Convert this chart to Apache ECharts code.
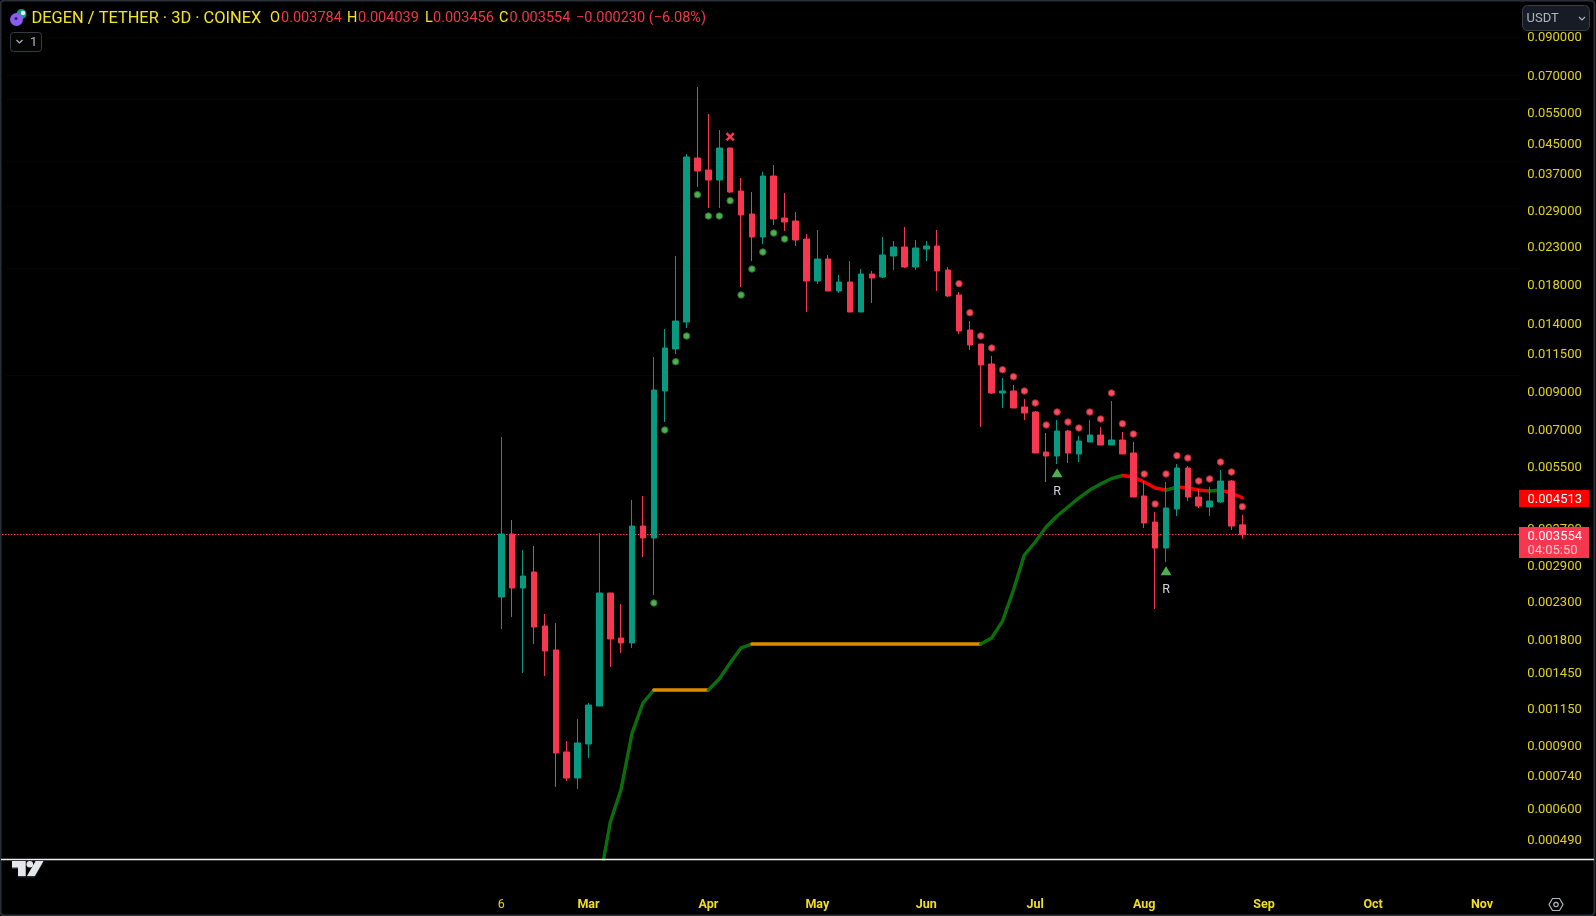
<!DOCTYPE html>
<html>
<head>
<meta charset="utf-8">
<title>DEGEN / TETHER</title>
<style>
  html, body { margin: 0; background: #000; }
  #chart { width: 1596px; height: 916px; }
</style>
<script src="https://cdn.jsdelivr.net/npm/echarts@6/dist/echarts.min.js"></script>
</head>
<body>
<div id="chart"></div>
<script>
// 3D candles
const openValues = [0.002368, 0.003565, 0.002511, 0.002786, 0.001962, 0.001679, 0.000866, 0.000731, 0.000912, 0.001167, 0.002431, 0.001815, 0.001757, 0.003755, 0.003474, 0.009023, 0.011852, 0.014124, 0.040968, 0.037897, 0.035514, 0.043716, 0.033066, 0.028478, 0.024527, 0.036448, 0.027748, 0.027213, 0.024211, 0.018432, 0.021262, 0.017273, 0.018313, 0.015071, 0.019289, 0.018917, 0.021681, 0.022985, 0.020186, 0.022689, 0.023135, 0.019797, 0.016830, 0.013409, 0.012243, 0.010752, 0.008907, 0.009023, 0.008133, 0.007873, 0.006072, 0.005916, 0.006959, 0.005994, 0.006479, 0.006781, 0.006354, 0.006564, 0.006033, 0.004563, 0.003854, 0.003255, 0.004194, 0.005473, 0.004533, 0.004248, 0.004389, 0.005030, 0.003784]
const closeValues = [0.003565, 0.002511, 0.002714, 0.001949, 0.001668, 0.000860, 0.000731, 0.000918, 0.001174, 0.002431, 0.001803, 0.001757, 0.003755, 0.003474, 0.009082, 0.011930, 0.014216, 0.041234, 0.037651, 0.035514, 0.043716, 0.032852, 0.028294, 0.024527, 0.036448, 0.027569, 0.027037, 0.024054, 0.018432, 0.021262, 0.017273, 0.018313, 0.015071, 0.019289, 0.018794, 0.021822, 0.022985, 0.020186, 0.022837, 0.023135, 0.019668, 0.016721, 0.013322, 0.012164, 0.010683, 0.008907, 0.009023, 0.008080, 0.007822, 0.006033, 0.005916, 0.006959, 0.006033, 0.006522, 0.006781, 0.006354, 0.006564, 0.005994, 0.004533, 0.003829, 0.003255, 0.004221, 0.005473, 0.004533, 0.004276, 0.004417, 0.005030, 0.003755, 0.003554]
const lowValues = [0.001924, 0.002080, 0.001446, 0.001745, 0.001418, 0.000690, 0.000717, 0.000681, 0.000832, 0.001167, 0.001503, 0.001646, 0.001701, 0.003071, 0.002399, 0.007378, 0.011474, 0.013584, 0.033936, 0.029610, 0.029610, 0.032639, 0.017728, 0.020988, 0.023438, 0.026515, 0.025502, 0.023135, 0.015071, 0.018076, 0.017273, 0.017050, 0.015071, 0.015071, 0.015978, 0.018794, 0.019797, 0.020055, 0.019797, 0.020988, 0.017273, 0.016613, 0.013065, 0.011776, 0.007142, 0.008849, 0.008080, 0.008080, 0.007474, 0.006033, 0.004997, 0.005617, 0.005653, 0.005690, 0.006479, 0.006354, 0.006354, 0.005994, 0.004533, 0.003707, 0.002191, 0.002973, 0.004007, 0.004417, 0.004221, 0.004007, 0.004360, 0.003659, 0.003456]
const highValues = [0.006693, 0.003905, 0.003213, 0.003298, 0.002121, 0.002000, 0.000930, 0.001072, 0.001190, 0.003588, 0.002431, 0.002263, 0.004446, 0.004563, 0.011252, 0.013496, 0.021681, 0.042046, 0.064963, 0.054516, 0.049136, 0.043716, 0.035978, 0.032852, 0.037408, 0.039147, 0.032639, 0.028851, 0.025010, 0.025668, 0.021822, 0.019164, 0.020988, 0.019926, 0.019668, 0.024527, 0.023899, 0.026173, 0.024054, 0.023899, 0.025668, 0.020186, 0.017161, 0.014216, 0.012243, 0.011326, 0.009818, 0.009382, 0.008566, 0.007924, 0.006869, 0.007474, 0.007004, 0.006737, 0.007474, 0.007142, 0.008456, 0.006914, 0.006479, 0.005030, 0.004113, 0.004997, 0.005617, 0.005544, 0.004775, 0.004838, 0.005402, 0.005063, 0.004039]

// trend line, from bar 9 on
const trendStart = 9
const trendValues = [0.000370, 0.000549, 0.000681, 0.000979, 0.001190, 0.001295, 0.001295, 0.001295, 0.001295, 0.001295, 0.001295, 0.001391, 0.001543, 0.001701, 0.001745, 0.001745, 0.001745, 0.001745, 0.001745, 0.001745, 0.001745, 0.001745, 0.001745, 0.001745, 0.001745, 0.001745, 0.001745, 0.001745, 0.001745, 0.001745, 0.001745, 0.001745, 0.001745, 0.001745, 0.001745, 0.001745, 0.001815, 0.002026, 0.002478, 0.003111, 0.003385, 0.003731, 0.004007, 0.004248, 0.004504, 0.004744, 0.004933, 0.005112, 0.005213, 0.005162, 0.004997, 0.004806, 0.004744, 0.004838, 0.004806, 0.004744, 0.004714, 0.004744, 0.004653, 0.004513]
const trendRuns = [[9, 14, 'green'], [14, 19, 'orange'], [19, 23, 'green'], [23, 44, 'orange'], [44, 57, 'green'], [57, 61, 'red'], [61, 62, 'green'], [62, 65, 'red'], [65, 66, 'green'], [66, 68, 'red']]
const trendColors = { green: '#0b6e0b', orange: '#e08a00', red: '#f50000' }

// dots under and over the candles
const greenDotStart = 14
const greenDots = [0.002278, 0.007004, 0.010914, 0.012896, 0.032281, 0.028111, 0.028111, 0.031047, 0.016830, 0.019926, 0.022251, 0.025173, 0.024211]
const redDotStart = 42
const redDots = [0.018112, 0.015003, 0.012896, 0.011930, 0.010362, 0.009901, 0.009023, 0.008347, 0.007236, 0.007873, 0.007378, 0.007096, 0.007873, 0.007523, 0.008907, 0.007297, 0.006825, 0.005264, 0.004332, 0.005264, 0.005928, 0.005840, 0.005030, 0.005096, 0.005690, 0.005332, 0.004257]
const crossMark = [21, 0.047044]
const reversalMarks = [[51, 0.005308], [61, 0.002809]]

// axes
const priceTicks = [0.09, 0.07, 0.055, 0.045, 0.037, 0.029, 0.023, 0.018, 0.014, 0.0115, 0.009, 0.007, 0.0055, 0.0037, 0.0029, 0.0023, 0.0018, 0.00145, 0.00115, 0.0009, 0.00074, 0.0006, 0.00049]
const timeTickBars = [0, 8, 19, 29, 39, 49, 59, 70, 80, 90]
const timeTickLabels = ['6', 'Mar', 'Apr', 'May', 'Jun', 'Jul', 'Aug', 'Sep', 'Oct', 'Nov']
const lastClose = 0.003554

const headerParts = [
  ['DEGEN / TETHER · 3D · COINEX', 31.5, 'title'],
  ['O', 270, 'key'], ['0.003784', 281, 'val'],
  ['H', 347, 'key'], ['0.004039', 358, 'val'],
  ['L', 425, 'key'], ['0.003456', 433, 'val'],
  ['C', 499, 'key'], ['0.003554', 509.5, 'val'],
  ['−0.000230 (−6.08%)', 576, 'val']
]

// 45 empty slots left of the first candle, the rest is the empty right side
const leadSlots = 45
const slotCount = 139
const slotNames = Array.from({ length: slotCount }, (_, i) => String(i - leadSlots))
const FONT = 'Roboto, sans-serif'

const chart = echarts.init(document.getElementById('chart'))

const candleData = openValues.map((o, i) => [i + leadSlots, o, closeValues[i], lowValues[i], highValues[i]])

const trendSeries = trendRuns.map(([from, to, color]) => {
  const points = []
  for (let i = from; i <= to; i++) {
    points.push([i + leadSlots, trendValues[i - trendStart]])
  }
  return {
    type: 'line',
    z: 2,
    data: points,
    symbol: 'none',
    lineStyle: { color: trendColors[color], width: 3.4, cap: 'round', join: 'round' },
    silent: true
  }
})

function label (text, x, y, color, size, weight, align) {
  return {
    type: 'text',
    z: 101,
    silent: true,
    style: { text, x, y, fill: color, fontFamily: FONT, fontSize: size, fontWeight: weight || 'normal', align: align || 'left', verticalAlign: 'middle' }
  }
}

function box (x, y, w, h, fill, stroke, r) {
  return {
    type: 'rect',
    z: 100,
    silent: true,
    shape: { x, y, width: w, height: h, r: r || 0 },
    style: { fill, stroke: stroke || 'none', lineWidth: 1 }
  }
}

function poly (points, style, closed) {
  return { type: closed ? 'polygon' : 'polyline', z: 101, silent: true, shape: { points }, style }
}

const headerStyles = {
  title: ['#f5e71e', 16.4],
  key: ['#f5e71e', 14.5],
  val: ['#f23645', 14.5]
}

const overlay = [
  // frame and the line over the time axis
  { type: 'rect', z: 99, silent: true, shape: { x: 0.5, y: 0.5, width: 1594, height: 915, r: 4 }, style: { fill: 'none', stroke: '#2a2e39', lineWidth: 2 } },
  { type: 'line', z: 99, silent: true, shape: { x1: 1, y1: 859.5, x2: 1594, y2: 859.5 }, style: { stroke: '#eeeeee', lineWidth: 1.5 } },
  // ends of the dotted price line, outside the first and last slot
  { type: 'line', z: 1, silent: true, shape: { x1: 2, y1: 534.5, x2: 11, y2: 534.5 }, style: { stroke: '#ff3b50', lineWidth: 1, lineDash: [1.5, 1.5] } },
  { type: 'line', z: 1, silent: true, shape: { x1: 1514.5, y1: 534.5, x2: 1519, y2: 534.5 }, style: { stroke: '#ff3b50', lineWidth: 1, lineDash: [1.5, 1.5] } },
  // symbol icon
  { type: 'circle', z: 100, silent: true, shape: { cx: 21.5, cy: 14, r: 5 }, style: { fill: '#0f9d8a' } },
  { type: 'circle', z: 100, silent: true, shape: { cx: 23, cy: 13, r: 2.2 }, style: { fill: '#e8f5f2' } },
  { type: 'circle', z: 101, silent: true, shape: { cx: 16.5, cy: 19.5, r: 6.5 }, style: { fill: '#8a5cf0' } },
  { type: 'circle', z: 102, silent: true, shape: { cx: 16, cy: 18.5, r: 1.5 }, style: { fill: '#2d1d66' } },
  // collapse button
  box(10.5, 32.5, 31, 19, '#050505', '#363a45', 3),
  poly([[16.5, 40], [19.5, 43], [22.5, 40]], { stroke: '#b2b5be', fill: 'none', lineWidth: 1.2 }),
  label('1', 30, 42.5, '#b2b5be', 13),
  // currency button
  box(1522.5, 5.5, 67, 25, '#161b26', '#3a3f4c', 5),
  label('USDT', 1526.5, 18.5, '#b2b5be', 13),
  poly([[1579, 17], [1582, 20], [1585, 17]], { stroke: '#b2b5be', fill: 'none', lineWidth: 1.2 }),
  // price tags
  box(1519, 490, 70, 17, '#ff0000'),
  label('0.004513', 1527.5, 499.5, '#ffffff', 13),
  box(1519, 527, 70, 31, '#f7374f'),
  label('0.003554', 1527.5, 536.5, '#ffffff', 13),
  label('04:05:50', 1527.5, 550.5, '#ffc4cb', 13),
  // settings icon
  poly([[1549, 904.5], [1552.5, 898.5], [1559.5, 898.5], [1563, 904.5], [1559.5, 910.5], [1552.5, 910.5]], { stroke: '#b2b5be', fill: 'none', lineWidth: 1.2 }, true),
  { type: 'circle', z: 101, silent: true, shape: { cx: 1556, cy: 904.5, r: 2.2 }, style: { stroke: '#b2b5be', fill: 'none', lineWidth: 1.2 } },
  // logo
  poly([[12, 861], [25.7, 861], [25.7, 876], [18, 876], [18, 867.5], [12, 867.5]], { fill: '#e6e7ec', shadowColor: '#2a2e39', shadowOffsetY: 1.5 }, true),
  { type: 'circle', z: 101, silent: true, shape: { cx: 29.8, cy: 864.3, r: 3.3 }, style: { fill: '#e6e7ec' } },
  poly([[35.6, 861], [43.5, 861], [34.8, 876], [26.9, 876]], { fill: '#e6e7ec', shadowColor: '#2a2e39', shadowOffsetY: 1.5 }, true)
]

headerParts.forEach(([text, x, kind]) => {
  overlay.push(label(text, x, 18.5, headerStyles[kind][0], headerStyles[kind][1]))
})

const option = {
  backgroundColor: '#000000',
  animation: false,
  textStyle: { fontFamily: FONT },
  grid: { left: 5.49, top: 0, width: 1514.7, height: 859, containLabel: false },
  xAxis: {
    type: 'category',
    data: slotNames,
    boundaryGap: true,
    axisLine: { show: false },
    axisTick: { show: false },
    splitLine: { show: false },
    axisLabel: {
      margin: 39,
      interval: idx => timeTickBars.includes(idx - leadSlots),
      formatter: (value) => {
        const text = timeTickLabels[timeTickBars.indexOf(Number(value))]
        return text === '6' ? '{day|' + text + '}' : '{month|' + text + '}'
      },
      rich: {
        day: { color: '#e6d51e', fontSize: 12.5, fontFamily: FONT },
        month: { color: '#f0df1e', fontSize: 12.5, fontWeight: 'bold', fontFamily: FONT }
      }
    }
  },
  yAxis: {
    type: 'log',
    position: 'right',
    min: 0.0004321,
    max: 0.1143,
    axisLine: { show: false },
    axisTick: { show: false },
    splitLine: { show: false },
    axisLabel: {
      customValues: priceTicks,
      margin: 7,
      formatter: value => '{p|' + Number(value).toFixed(6) + '}',
      rich: {
        p: { color: '#e0d21e', fontFamily: FONT, fontSize: 13, padding: [2, 0, 0, 0] }
      }
    }
  },
  series: [
    {
      type: 'line',
      z: 1,
      data: [],
      silent: true,
      markLine: {
        z: 1,
        silent: true,
        symbol: 'none',
        label: { show: false },
        lineStyle: { color: '#060606', width: 1, type: 'solid' },
        data: priceTicks.map(v => ({ yAxis: v }))
      }
    },
    {
      // last close, dotted, behind the candles
      type: 'line',
      z: 1,
      symbol: 'none',
      silent: true,
      data: [[0, lastClose], [slotCount - 1, lastClose]],
      lineStyle: { color: '#ff3b50', width: 1, type: [1.5, 1.5] }
    },
    ...trendSeries,
    {
      type: 'candlestick',
      z: 5,
      barWidth: 6,
      silent: true,
      encode: { x: 0, y: [1, 2, 3, 4] },
      data: candleData,
      itemStyle: { color: '#089981', color0: '#f7374f', borderColor: '#089981', borderColor0: '#f7374f', borderWidth: 1 }
    },
    {
      type: 'scatter',
      z: 6,
      symbolSize: 6.5,
      silent: true,
      data: greenDots.map((v, i) => [i + greenDotStart + leadSlots, v]),
      itemStyle: { color: '#4caf50', opacity: 1, borderColor: '#2a6b2e', borderWidth: 1 }
    },
    {
      type: 'scatter',
      z: 6,
      symbolSize: 6.5,
      silent: true,
      data: redDots.map((v, i) => [i + redDotStart + leadSlots, v]),
      itemStyle: { color: '#fb4c5c', opacity: 1, borderColor: '#a02a36', borderWidth: 1 }
    },
    {
      type: 'scatter',
      z: 6,
      symbol: 'path://M0 2L2 0L5 3L8 0L10 2L7 5L10 8L8 10L5 7L2 10L0 8L3 5Z',
      symbolSize: 9,
      silent: true,
      data: [[crossMark[0] + leadSlots, crossMark[1]]],
      itemStyle: { color: '#f7374f', opacity: 1 }
    },
    {
      type: 'scatter',
      z: 6,
      symbol: 'triangle',
      symbolSize: [11, 9],
      silent: true,
      data: reversalMarks.map(([bar, v]) => [bar + leadSlots, v]),
      itemStyle: { color: '#4caf50', opacity: 1 },
      label: { show: true, formatter: 'R', position: 'bottom', distance: 8, color: '#d1d4dc', fontSize: 12.5, fontFamily: FONT }
    }
  ],
  graphic: { elements: overlay }
}

chart.setOption(option)
</script>
</body>
</html>
